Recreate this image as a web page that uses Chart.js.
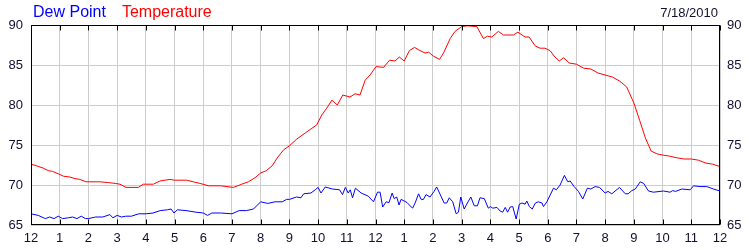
<!DOCTYPE html>
<html>
<head>
<meta charset="utf-8">
<script src="https://cdn.jsdelivr.net/npm/chart.js@4/dist/chart.umd.min.js"></script>
<style>
  body { margin: 0; background: #fff; }
  #wrap { position: relative; width: 750px; height: 250px; }
  .lbl { position: absolute; font-family: "Liberation Sans", Arial, sans-serif; white-space: nowrap; }
  #legend { left: 33px; top: 4px; font-size: 16px; line-height: 16px; }
  #legend span { margin-right: 16px; }
  #date { right: 32px; top: 6px; font-size: 13px; line-height: 13px; color: #101030; }
</style>
</head>
<body>
<div id="wrap">
  <canvas id="c" width="750" height="250"></canvas>
  <div id="legend" class="lbl"><span style="color:#0000ff">Dew Point</span><span style="color:#ff0000">Temperature</span></div>
  <div id="date" class="lbl">7/18/2010</div>
</div>
<script>
// hour labels along the bottom (midnight to midnight)
const hourLabels = ['12','1','2','3','4','5','6','7','8','9','10','11','12','1','2','3','4','5','6','7','8','9','10','11','12'];

// temperature readings (hours since midnight, deg F)
const tempHours = [0,0.2,0.43,0.6,0.75,0.95,1.13,1.35,1.53,1.7,1.92,2.4,2.7,2.93,3.1,3.31,3.74,3.91,4.26,4.49,4.84,5.0,5.42,5.65,5.89,6.18,6.6,7.05,7.2,7.34,7.57,7.8,8.0,8.2,8.4,8.6,8.8,9.0,9.26,9.55,9.75,9.95,10.13,10.3,10.48,10.67,10.86,11.11,11.29,11.46,11.64,11.81,12.02,12.28,12.49,12.68,12.83,13.0,13.18,13.36,13.55,13.73,13.85,14.02,14.23,14.37,14.6,14.77,15.0,15.2,15.53,15.76,15.9,16.05,16.28,16.46,16.8,16.96,17.21,17.35,17.56,17.73,17.9,18.08,18.25,18.4,18.55,18.75,19.0,19.25,19.5,19.75,20.0,20.25,20.5,20.75,21.0,21.2,21.4,21.6,21.8,22.0,22.25,22.5,22.75,23.0,23.25,23.5,23.75,24.0];
const tempValues = [72.6,72.4,72.1,71.8,71.7,71.4,71.1,71.0,70.8,70.7,70.4,70.4,70.3,70.2,70.1,69.7,69.7,70.1,70.1,70.5,70.7,70.6,70.6,70.4,70.2,69.9,69.9,69.7,69.9,70.1,70.4,70.9,71.5,71.8,72.4,73.5,74.4,74.9,75.75,76.5,77.0,77.5,78.75,79.6,80.6,80.0,81.25,81.0,81.4,81.25,83.1,83.75,84.8,84.7,85.6,85.5,86.0,85.5,86.8,87.2,86.8,86.5,86.6,86.1,85.7,86.5,88.3,89.2,89.8,89.9,89.8,88.3,88.6,88.5,89.2,88.75,88.75,89.1,88.5,88.5,87.4,87.1,87.1,86.8,86.0,85.5,85.9,85.25,85.1,84.6,84.5,84.0,83.75,83.5,83.0,82.25,80.25,78.1,75.9,74.25,73.9,73.75,73.6,73.4,73.25,73.25,73.1,72.75,72.6,72.3];

// dew point readings (hours since midnight, deg F)
const dewHours = [0,0.25,0.5,0.65,0.8,0.95,1.1,1.3,1.45,1.6,1.75,1.9,2.0,2.25,2.5,2.75,2.85,3.0,3.15,3.3,3.5,3.75,4.0,4.25,4.5,4.75,4.88,4.98,5.1,5.4,5.75,6.0,6.15,6.3,6.6,7.0,7.25,7.5,7.75,8.0,8.25,8.5,8.75,8.9,9.0,9.25,9.4,9.5,9.75,9.9,10.0,10.1,10.25,10.5,10.75,10.85,10.95,11.05,11.12,11.2,11.3,11.5,11.75,11.93,12.07,12.16,12.25,12.37,12.47,12.58,12.65,12.74,12.82,12.89,13.0,13.1,13.18,13.29,13.38,13.5,13.59,13.67,13.76,13.9,14.04,14.13,14.23,14.39,14.48,14.57,14.69,14.81,14.89,14.97,15.09,15.2,15.32,15.44,15.55,15.64,15.79,15.93,16.0,16.09,16.23,16.34,16.43,16.52,16.6,16.69,16.78,16.9,17.01,17.1,17.21,17.27,17.36,17.46,17.57,17.67,17.8,17.85,17.97,18.2,18.3,18.43,18.58,18.7,18.78,18.92,19.07,19.22,19.38,19.5,19.65,19.8,20.0,20.1,20.23,20.5,20.7,20.8,20.93,21.05,21.22,21.34,21.51,21.68,22.03,22.26,22.35,22.45,22.67,22.96,23.08,23.3,23.54,23.77,24.0];
const dewValues = [66.4,66.2,65.8,66.0,65.8,66.1,65.8,65.9,66.0,65.8,66.1,65.8,65.8,66.0,66.0,66.3,65.9,66.2,66.0,66.1,66.1,66.4,66.4,66.5,66.8,66.9,67.0,66.5,66.9,66.8,66.6,66.5,66.2,66.5,66.5,66.4,66.8,66.8,67.0,67.9,67.7,67.9,67.9,68.2,68.2,68.5,68.4,68.9,69.0,69.4,69.7,69.0,69.75,69.5,69.4,68.8,69.7,69.0,69.4,68.4,69.6,69.0,68.6,67.9,69.1,69.1,67.25,67.9,67.8,69.0,68.3,68.5,67.5,68.2,68.0,67.8,67.5,67.1,67.75,68.9,68.2,68.2,68.8,68.5,69.2,69.75,69.0,67.75,67.75,68.4,67.9,66.4,66.6,68.5,67.0,67.75,68.5,67.4,67.4,68.4,68.3,67.1,67.3,67.1,67.2,66.75,66.6,67.2,66.6,67.25,67.3,65.75,67.6,67.75,67.6,68.0,67.3,67.0,67.75,67.9,67.75,67.3,67.9,69.6,69.4,70.0,71.2,70.4,70.5,69.8,69.2,68.25,69.6,69.5,69.8,69.7,69.0,69.2,68.9,69.7,68.9,68.9,69.3,69.5,70.4,70.2,69.25,69.1,69.25,69.1,69.3,69.2,69.5,69.4,69.9,69.8,69.8,69.5,69.25];

const toPoints = (xs, ys) => xs.map((h, i) => ({ x: h, y: ys[i] }));

// black frame plus short inward ticks on top and bottom edges
const frame = {
  id: 'frame',
  afterDatasetsDraw(chart) {
    const { ctx, chartArea: a, scales } = chart;
    const l = Math.round(a.left) + 0.5, r = Math.round(a.right) - 0.5;
    const t = Math.round(a.top) + 0.5, b = Math.round(a.bottom) - 0.5;
    ctx.save();
    ctx.strokeStyle = '#000';
    ctx.lineWidth = 1;
    ctx.strokeRect(l, t, r - l, b - t);
    ctx.beginPath();
    scales.x.ticks.forEach(tk => {
      const px = Math.round(scales.x.getPixelForValue(tk.value)) + 0.5;
      ctx.moveTo(px, t); ctx.lineTo(px, t + 5);
      ctx.moveTo(px, b); ctx.lineTo(px, b - 5);
    });
    ctx.stroke();
    ctx.restore();
  }
};

const tickFont = { family: '"Liberation Sans", Arial, sans-serif', size: 13 };
const tickColor = '#101030';

new Chart(document.getElementById('c'), {
  type: 'line',
  data: {
    datasets: [{
      label: 'Temperature',
      data: toPoints(tempHours, tempValues),
      borderColor: '#ff0000',
      borderWidth: 1,
      pointRadius: 0,
      tension: 0
    }, {
      label: 'Dew Point',
      data: toPoints(dewHours, dewValues),
      borderColor: '#0000ff',
      borderWidth: 1,
      pointRadius: 0,
      tension: 0
    }]
  },
  options: {
    responsive: false,
    animation: false,
    layout: { padding: { top: 25, left: 0, right: 0, bottom: 0 } },
    plugins: { legend: { display: false }, tooltip: { enabled: false } },
    scales: {
      x: {
        type: 'linear',
        min: 0, max: 24,
        afterFit: s => { s.height = 25; },
        grid: { color: '#cccccc', drawTicks: false },
        border: { display: false },
        ticks: {
          stepSize: 1, padding: 6, font: tickFont, color: tickColor,
          maxRotation: 0, autoSkip: false,
          callback: v => hourLabels[v]
        }
      },
      y: {
        position: 'left',
        min: 65, max: 90,
        afterFit: s => { s.width = 31; },
        grid: { color: '#cccccc', drawTicks: false },
        border: { display: false },
        ticks: { stepSize: 5, padding: 8, font: tickFont, color: tickColor }
      },
      y2: {
        position: 'right',
        min: 65, max: 90,
        afterFit: s => { s.width = 30; },
        grid: { drawOnChartArea: false, drawTicks: false },
        border: { display: false },
        ticks: { stepSize: 5, padding: 7, font: tickFont, color: tickColor }
      }
    }
  },
  plugins: [frame]
});
</script>
</body>
</html>
